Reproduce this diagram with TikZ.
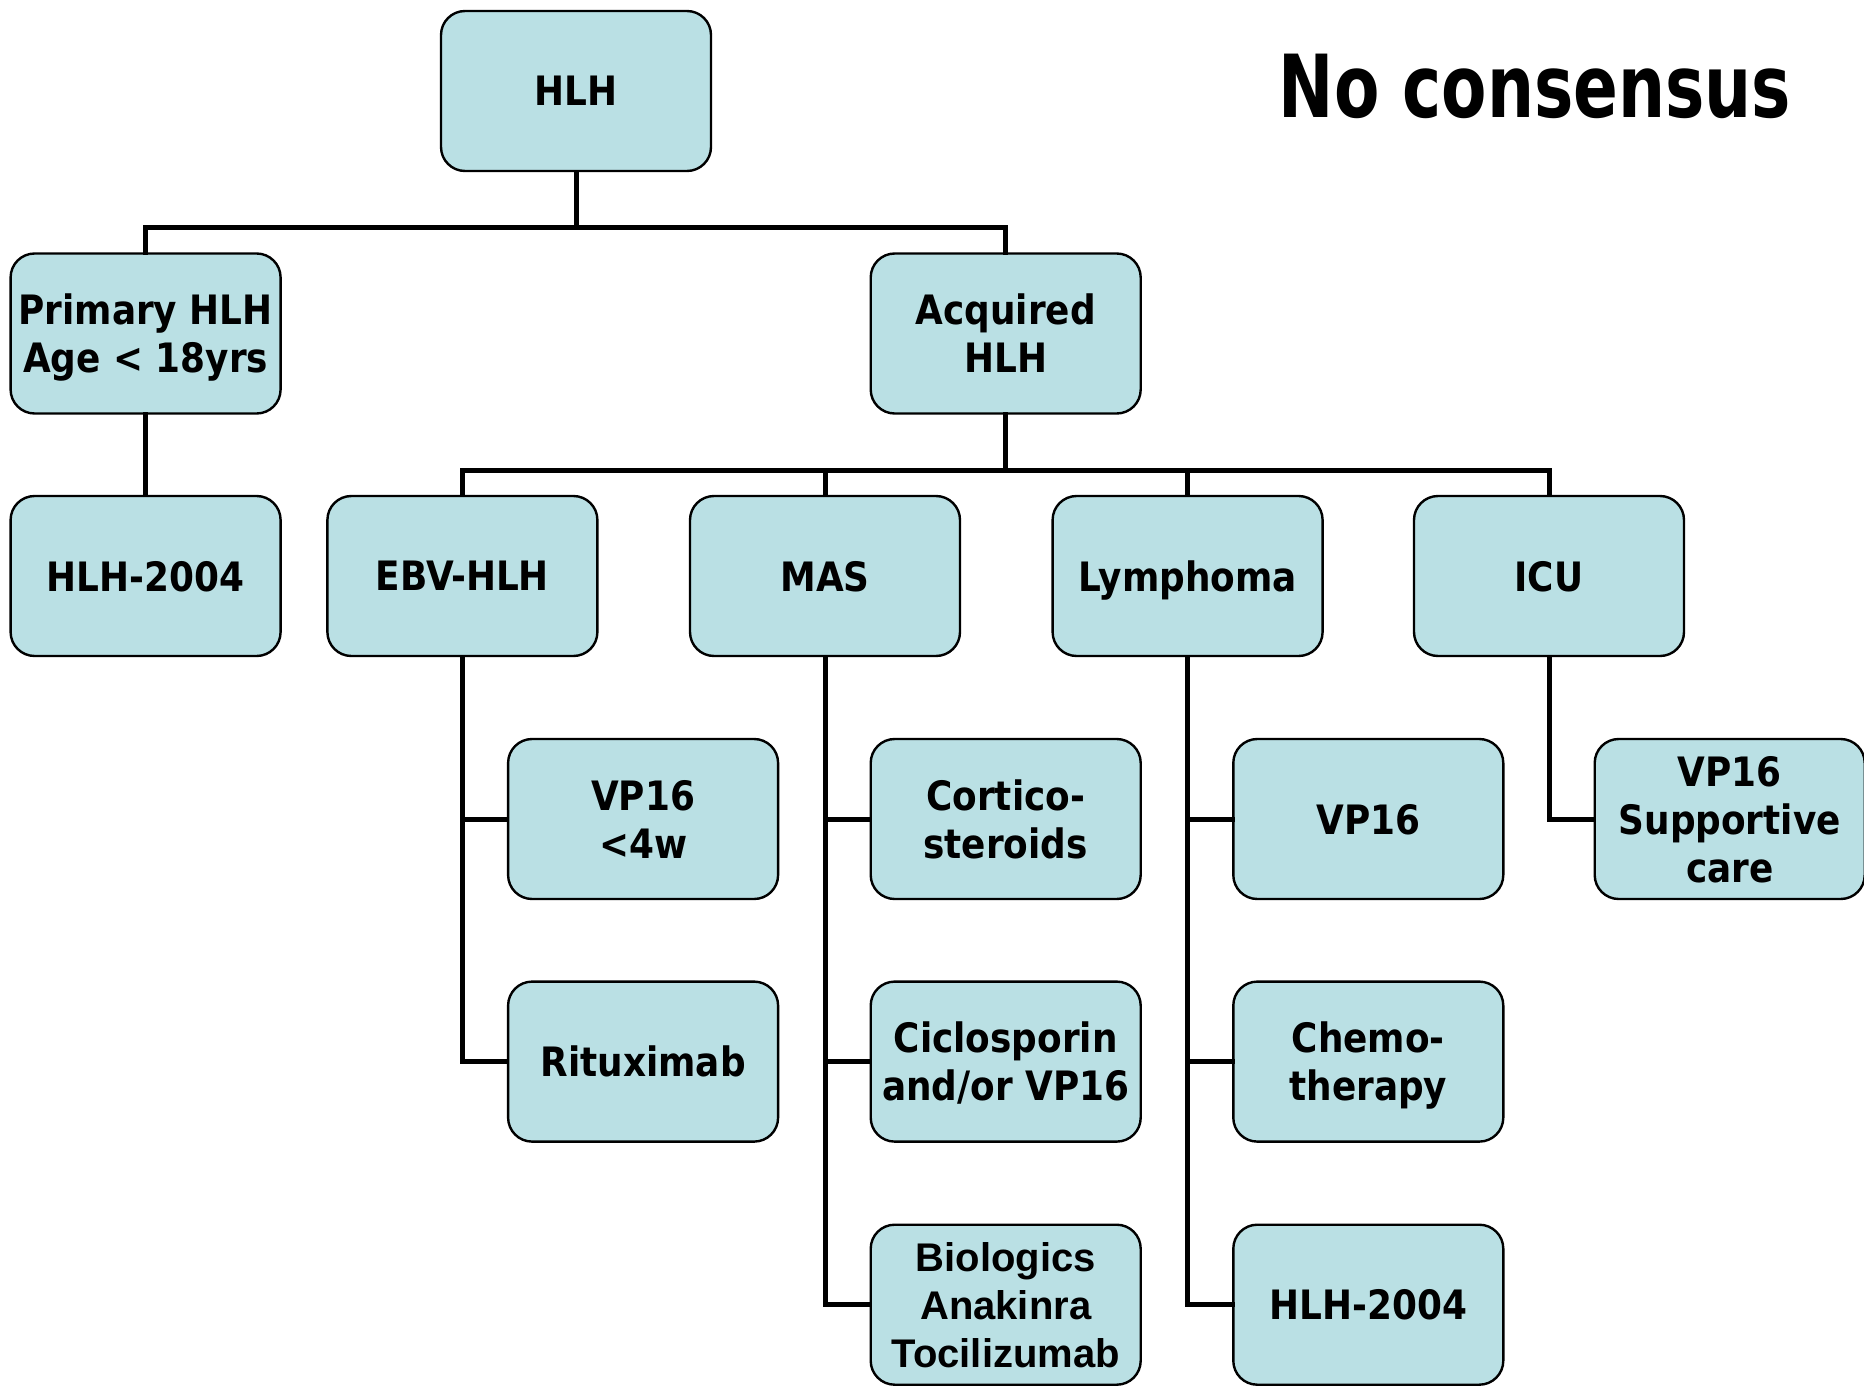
\documentclass[tikz,border=0pt]{standalone}
\usepackage{fontspec}
\setmainfont{DejaVu Sans}[FakeStretch=0.885]
\newfontfamily\arialfont{Liberation Sans}
\newfontfamily\titlefont{DejaVu Sans}[FakeStretch=0.76]
\usepackage{tikz}
\usetikzlibrary{positioning}

\definecolor{boxfill}{RGB}{186,224,228}

\begin{document}
\begin{tikzpicture}[x=1pt,y=-1pt]
\tikzset{
	hlh box/.style = {rectangle, rounded corners = 24, draw, line width = 2.4,
		fill = boxfill, minimum width = 270, minimum height = 160,
		align = center, text depth = 0pt, font = \fontsize{40.5}{48}\selectfont\bfseries},
	link/.style = {line width = 5, line cap = rect}
}
\useasboundingbox (0,0) rectangle (1864,1386);

% top levels
\node(hlh)[hlh box] at (576,91) {HLH};
\node(prim)[hlh box] at (145.6,333.5) {Primary HLH\\Age < 18yrs};
\node(acq)[hlh box] at (1005.7,333.5) {Acquired\\HLH};

% third row
\node(hlhA)[hlh box] at (145.6,576) {HLH-2004};
\node(ebv)[hlh box] at (462.4,576) {EBV-HLH};
\node(mas)[hlh box] at (825,576) {MAS};
\node(lym)[hlh box] at (1187.6,576) {Lymphoma};
\node(icu)[hlh box] at (1549,576) {ICU};

% treatments
\node(vpw)[hlh box] at (643.1,819) {VP16\\<4w};
\node(rit)[hlh box] at (643.1,1061.6) {Rituximab};
\node(cort)[hlh box] at (1005.7,819) {Cortico-\\steroids};
\node(cic)[hlh box] at (1005.7,1061.6) {Ciclosporin\\and/or VP16};
\node(bio)[hlh box, font = \fontsize{40}{48}\selectfont\arialfont\bfseries] at (1005.7,1304.7) {Biologics\\Anakinra\\Tocilizumab};
\node(vpl)[hlh box] at (1368.3,819) {VP16};
\node(chemo)[hlh box] at (1368.3,1061.6) {Chemo-\\therapy};
\node(hlhB)[hlh box] at (1368.3,1304.7) {HLH-2004};
\node(vpsup)[hlh box] at (1729.7,819) {VP16\\Supportive\\care};

\node(nocons)[font = \fontsize{87}{100}\selectfont\titlefont\bfseries] at (1535,86) {No consensus};

\coordinate(bus1) at (576,227);
\coordinate(bus2) at (1005.7,470.8);

\draw[link] (hlh.south) -- (bus1);
\draw[link] (prim.north) |- (bus1) -| (acq.north);
\draw[link] (prim.south) -- (hlhA.north);
\draw[link] (acq.south) -- (bus2);
\draw[link] (ebv.north) |- (bus2) -| (icu.north);
\draw[link] (mas.north) -- (mas.north |- bus2);
\draw[link] (lym.north) -- (lym.north |- bus2);
\draw[link] (ebv.south) |- (vpw.west);
\draw[link] (ebv.south) |- (rit.west);
\draw[link] (mas.south) |- (cort.west);
\draw[link] (mas.south) |- (cic.west);
\draw[link] (mas.south) |- (bio.west);
\draw[link] (lym.south) |- (vpl.west);
\draw[link] (lym.south) |- (chemo.west);
\draw[link] (lym.south) |- (hlhB.west);
\draw[link] (icu.south) |- (vpsup.west);
\end{tikzpicture}
\end{document}
